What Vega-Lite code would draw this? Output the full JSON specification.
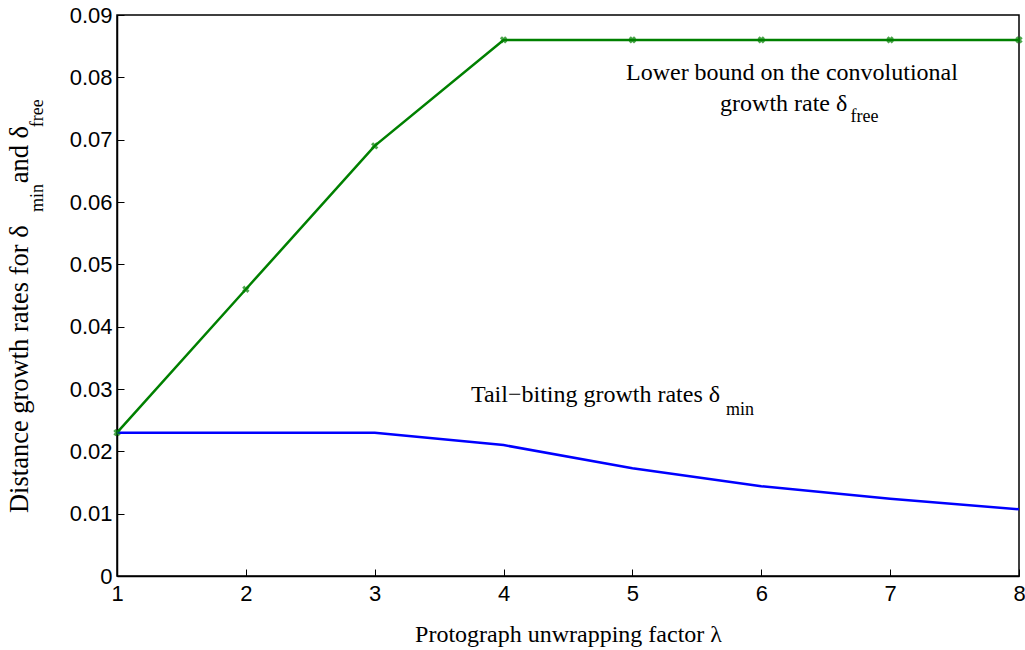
{
  "$schema": "https://vega.github.io/schema/vega-lite/v6.json",
  "width": 902,
  "height": 561,
  "autosize": {"type": "none"},
  "padding": {"left": 117, "top": 15, "right": 6, "bottom": 74},
  "background": "white",
  "config": {
    "view": {"stroke": "#000", "strokeWidth": 1.5},
    "axis": {
      "domainColor": "#000", "domainWidth": 1.5,
      "tickColor": "#000", "tickSize": -7, "tickWidth": 1,
      "grid": false, "labelFlush": false,
      "labelFont": "Liberation Sans", "labelFontSize": 22, "labelColor": "#000",
      "titleFont": "Liberation Serif", "titleFontSize": 24, "titleFontWeight": "normal", "titleColor": "#000"
    }
  },
  "datasets": {
    "lines": [
      {"lambda": 1, "rate": 0.023, "series": "free"},
      {"lambda": 2, "rate": 0.046, "series": "free"},
      {"lambda": 3, "rate": 0.069, "series": "free"},
      {"lambda": 4, "rate": 0.086, "series": "free"},
      {"lambda": 5, "rate": 0.086, "series": "free"},
      {"lambda": 6, "rate": 0.086, "series": "free"},
      {"lambda": 7, "rate": 0.086, "series": "free"},
      {"lambda": 8, "rate": 0.086, "series": "free"},
      {"lambda": 1, "rate": 0.023, "series": "min"},
      {"lambda": 2, "rate": 0.023, "series": "min"},
      {"lambda": 3, "rate": 0.023, "series": "min"},
      {"lambda": 4, "rate": 0.021, "series": "min"},
      {"lambda": 5, "rate": 0.0173, "series": "min"},
      {"lambda": 6, "rate": 0.0144, "series": "min"},
      {"lambda": 7, "rate": 0.0124, "series": "min"},
      {"lambda": 8, "rate": 0.0107, "series": "min"}
    ],
    "mainText": [
      {"lambda": 6.238, "rate": 0.0807, "label": "Lower bound on the convolutional"}
    ],
    "leftText": [
      {"lambda": 5.68, "rate": 0.0757, "label": "growth rate δ"},
      {"lambda": 3.747, "rate": 0.0290, "label": "Tail−biting growth rates δ"}
    ],
    "subText": [
      {"lambda": 6.692, "rate": 0.0736, "label": "free"},
      {"lambda": 5.726, "rate": 0.0266, "label": "min"}
    ],
    "yTitle": [
      {"lambda": 0.247, "rate": 0.0101, "label": "Distance growth rates for δ"},
      {"lambda": 0.247, "rate": 0.0630, "label": "and δ"}
    ],
    "yTitleSub": [
      {"lambda": 0.387, "rate": 0.0584, "label": "min"},
      {"lambda": 0.387, "rate": 0.0720, "label": "free"}
    ]
  },
  "layer": [
    {
      "data": {"name": "lines"},
      "mark": {"type": "line", "strokeWidth": 2.5},
      "encoding": {
        "x": {"field": "lambda", "type": "quantitative",
              "scale": {"domain": [1, 8], "nice": false, "zero": false},
              "axis": {"values": [1,2,3,4,5,6,7,8], "format": "d", "title": "Protograph unwrapping factor λ",
                       "titlePadding": 18, "labelPadding": 14, "labelFontSize": 22, "titleFontSize": 24, "labelFlush": false}},
        "y": {"field": "rate", "type": "quantitative",
              "scale": {"domain": [0, 0.09], "nice": false, "zero": true},
              "axis": {"values": [0,0.01,0.02,0.03,0.04,0.05,0.06,0.07,0.08,0.09], "format": ".2~f", "title": null,
                       "labelPadding": 12, "labelFontSize": 22, "labelFlush": false}},
        "color": {"field": "series", "type": "nominal",
                  "scale": {"domain": ["free", "min"], "range": ["#008000", "#0000ff"]},
                  "legend": null},
        "order": {"field": "lambda", "type": "quantitative"}
      }
    },
    {
      "data": {"name": "lines"},
      "transform": [{"filter": "datum.series === 'free'"}],
      "mark": {"type": "point", "shape": "cross", "angle": 45, "size": 55, "filled": true, "color": "#008000"},
      "encoding": {
        "x": {"field": "lambda", "type": "quantitative"},
        "y": {"field": "rate", "type": "quantitative"}
      }
    },
    {
      "data": {"name": "mainText"},
      "mark": {"type": "text", "font": "Liberation Serif", "fontSize": 24, "align": "center", "baseline": "middle", "color": "#000"},
      "encoding": {
        "x": {"field": "lambda", "type": "quantitative"},
        "y": {"field": "rate", "type": "quantitative"},
        "text": {"field": "label"}
      }
    },
    {
      "data": {"name": "leftText"},
      "mark": {"type": "text", "font": "Liberation Serif", "fontSize": 24, "align": "left", "baseline": "middle", "color": "#000"},
      "encoding": {
        "x": {"field": "lambda", "type": "quantitative"},
        "y": {"field": "rate", "type": "quantitative"},
        "text": {"field": "label"}
      }
    },
    {
      "data": {"name": "subText"},
      "mark": {"type": "text", "font": "Liberation Serif", "fontSize": 18, "align": "left", "baseline": "middle", "color": "#000"},
      "encoding": {
        "x": {"field": "lambda", "type": "quantitative"},
        "y": {"field": "rate", "type": "quantitative"},
        "text": {"field": "label"}
      }
    },
    {
      "data": {"name": "yTitle"},
      "mark": {"type": "text", "font": "Liberation Serif", "fontSize": 26.5, "align": "left", "baseline": "middle", "angle": 270, "color": "#000"},
      "encoding": {
        "x": {"field": "lambda", "type": "quantitative"},
        "y": {"field": "rate", "type": "quantitative"},
        "text": {"field": "label"}
      }
    },
    {
      "data": {"name": "yTitleSub"},
      "mark": {"type": "text", "font": "Liberation Serif", "fontSize": 18, "align": "left", "baseline": "middle", "angle": 270, "color": "#000"},
      "encoding": {
        "x": {"field": "lambda", "type": "quantitative"},
        "y": {"field": "rate", "type": "quantitative"},
        "text": {"field": "label"}
      }
    }
  ]
}
